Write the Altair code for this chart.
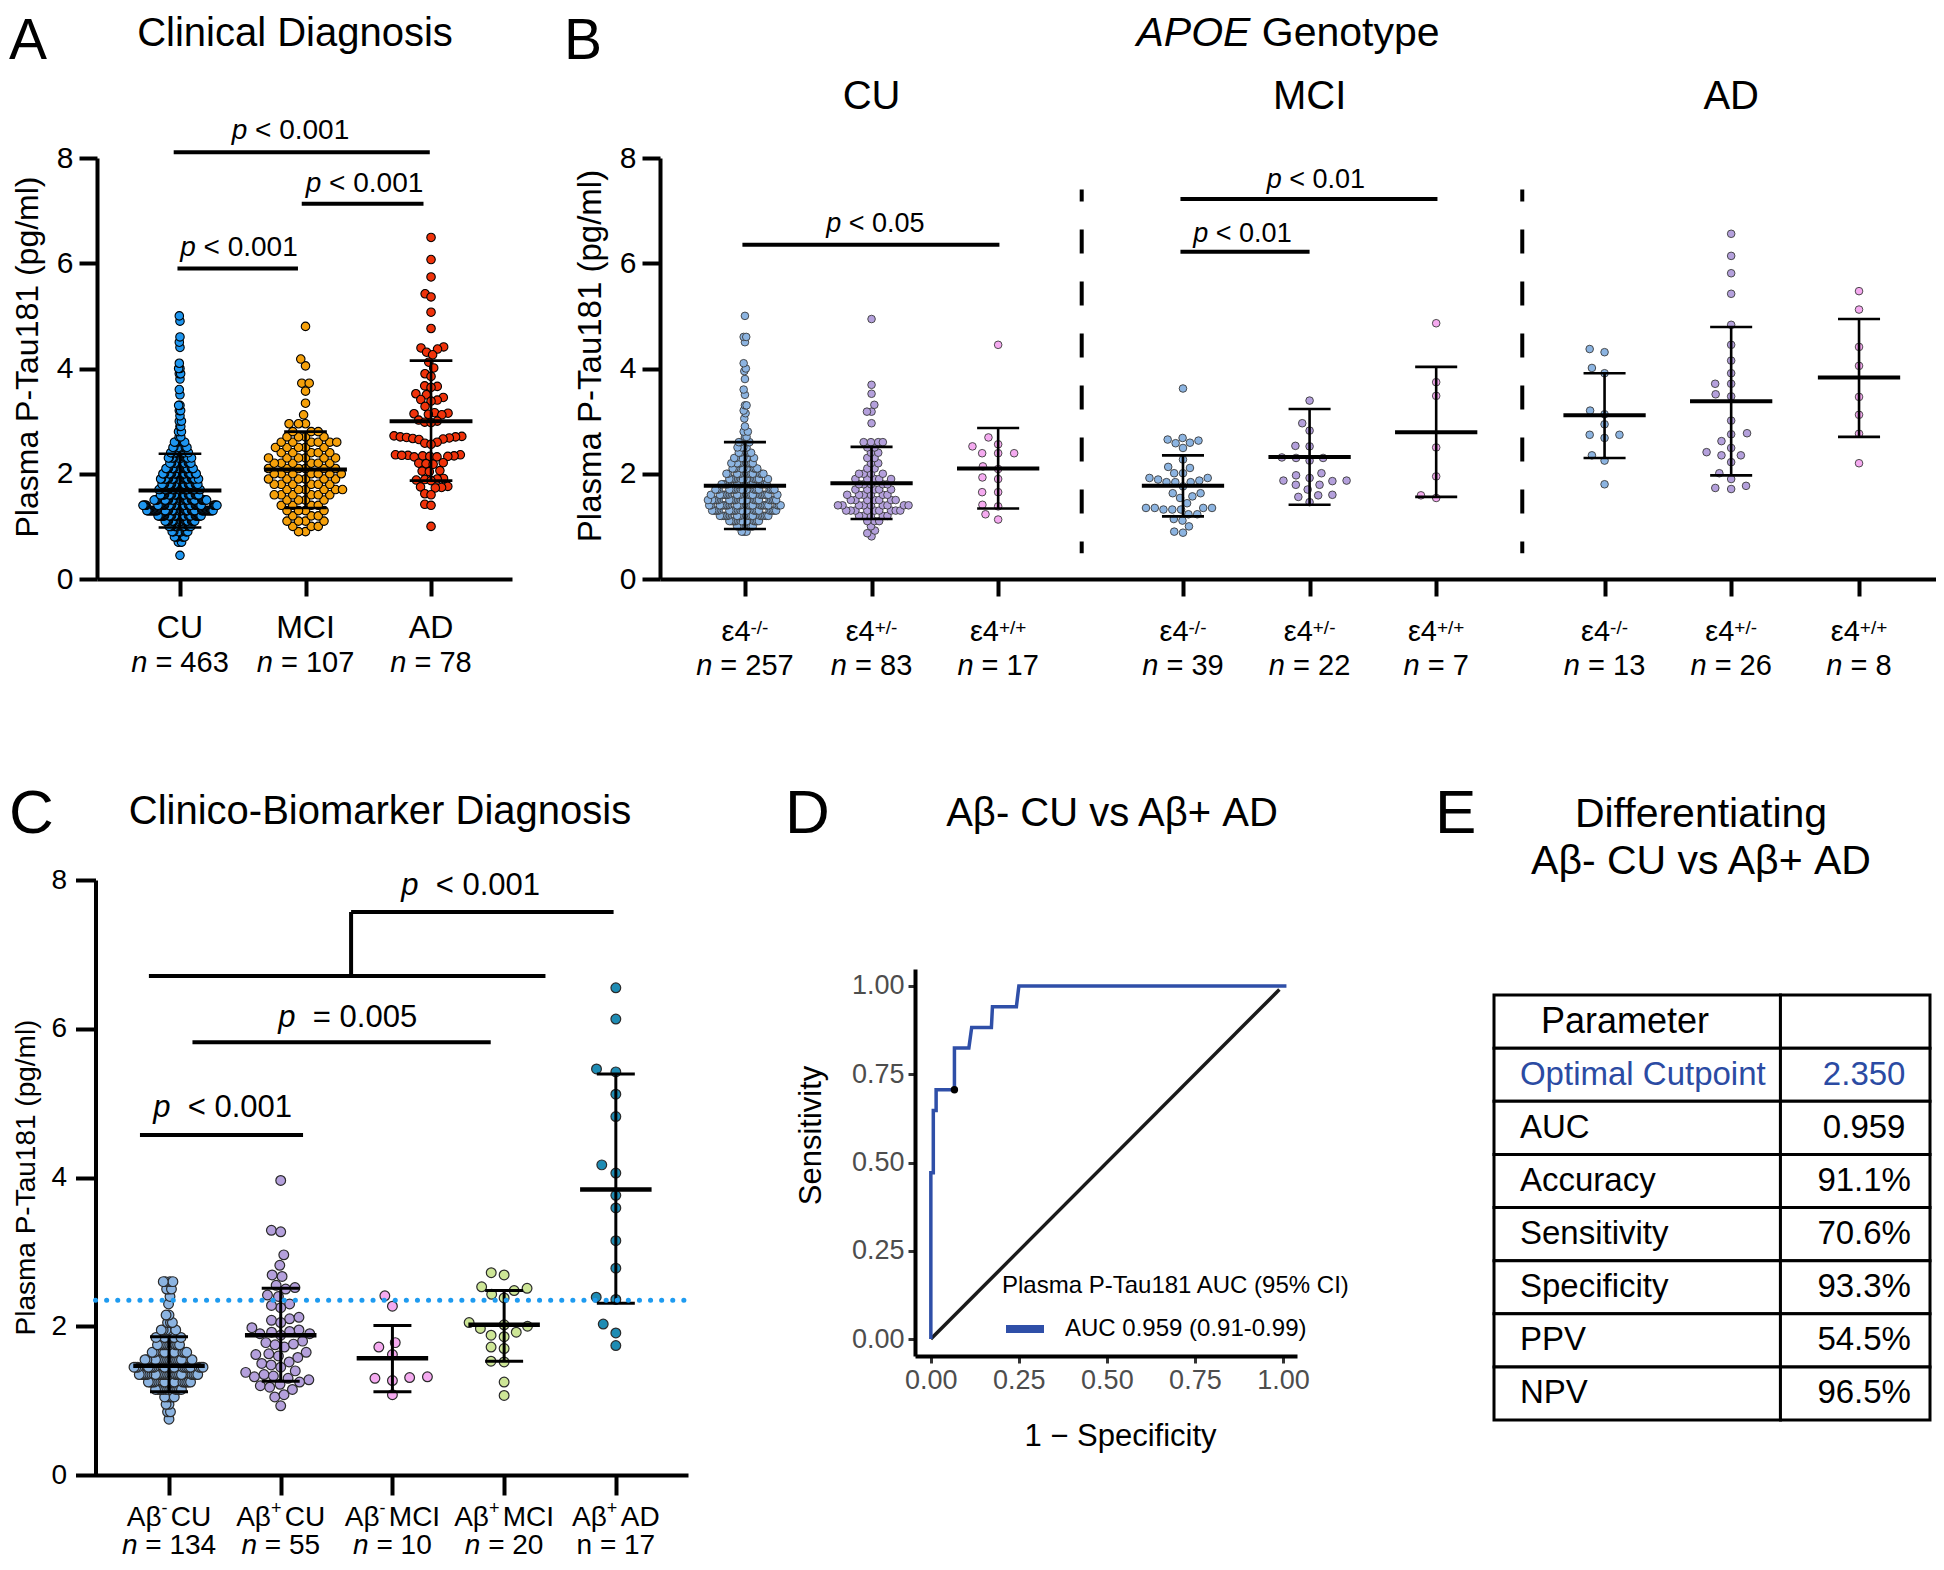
import numpy as np
import pandas as pd
import altair as alt

FONT = "Liberation Sans"
CW, CH = 1928, 1554

# ======================= values =======================
# ---- A: Clinical Diagnosis ----
A_groups = ["CU", "MCI", "AD"]
A_n = ["463", "107", "78"]
A_mean = [1.68, 2.08, 3.00]
A_sd_hi = [2.38, 2.80, 4.15]
A_sd_lo = [0.98, 1.35, 1.87]
A_CU_row_value = [0.45, 0.7, 0.8, 0.9, 1.0, 1.1, 1.2, 1.3, 1.4, 1.5, 1.6, 1.7, 1.8, 1.9, 2.0, 2.1, 2.2, 2.3,
                  2.4, 2.5, 2.6, 2.7, 2.8, 2.9, 3.0, 3.1, 3.2, 3.3, 3.5, 3.6, 3.8, 3.9, 4.0, 4.1, 4.4, 4.5,
                  4.6, 4.9, 5.0]
A_CU_row_count = [1, 5, 9, 12, 17, 22, 34, 51, 44, 34, 28, 26, 25, 25, 22, 19, 16, 15,
                  12, 10, 9, 3, 2, 2, 2, 1, 2, 2, 1, 1, 1, 2, 2, 1, 1, 1,
                  1, 1, 1]
A_MCI_row_value = [0.9, 1.0, 1.1, 1.2, 1.3, 1.4, 1.5, 1.6, 1.7, 1.8, 1.9, 2.0, 2.1, 2.2, 2.3, 2.4, 2.5,
                   2.6, 2.7, 2.8, 2.95, 3.12, 3.34, 3.57, 3.72, 4.05, 4.18, 4.80]
A_MCI_row_count = [2, 3, 4, 3, 4, 4, 4, 6, 6, 6, 6, 7, 6, 6, 6, 5, 5,
                   6, 4, 3, 3, 1, 1, 1, 2, 1, 1, 1]
A_AD_values = [6.49, 6.07, 5.74, 5.42, 5.36, 5.07, 4.76, 4.41, 4.39, 4.37, 4.31, 4.26, 4.12, 4.01, 3.90,
               3.85, 3.67, 3.66, 3.64, 3.52, 3.50, 3.45, 3.41, 3.40, 3.38, 3.28, 3.16, 3.15, 3.14, 3.13,
               3.12, 3.02, 3.00, 2.98, 2.97, 2.72, 2.71, 2.70, 2.70, 2.69, 2.68, 2.67, 2.66, 2.65, 2.60,
               2.58, 2.56, 2.36, 2.36, 2.35, 2.35, 2.34, 2.34, 2.33, 2.33, 2.32, 2.32, 2.21, 2.20, 2.19,
               2.18, 2.06, 2.05, 2.04, 1.91, 1.90, 1.89, 1.88, 1.87, 1.76, 1.75, 1.74, 1.73, 1.62, 1.60,
               1.42, 1.40, 1.00]
A_sig_x1 = [-0.05, 0.97, -0.02]
A_sig_x2 = [1.99, 1.94, 0.94]
A_sig_y = [8.11, 7.13, 5.90]
A_sig_label = ["< 0.001", "< 0.001", "< 0.001"]
A_sig_text_x = [0.88, 1.47, 0.47]
A_sig_text_y = [8.36, 7.36, 6.13]

# ---- B: APOE genotype ----
B_diag = ["CU", "MCI", "AD"]
B_geno = ["-/-", "+/-", "+/+", "-/-", "+/-", "+/+", "-/-", "+/-", "+/+"]
B_n = ["257", "83", "17", "39", "22", "7", "13", "26", "8"]
B_mean = [1.77, 1.82, 2.10, 1.77, 2.32, 2.79, 3.11, 3.38, 3.83]
B_sd_hi = [2.60, 2.51, 2.87, 2.35, 3.23, 4.03, 3.91, 4.79, 4.94]
B_sd_lo = [0.95, 1.14, 1.34, 1.19, 1.41, 1.56, 2.30, 1.97, 2.70]
B_CU_mm_row_value = [0.9, 1.0, 1.1, 1.2, 1.3, 1.4, 1.5, 1.6, 1.7, 1.8, 1.9, 2.0, 2.1, 2.2, 2.3, 2.4, 2.5,
                     2.6, 2.7, 2.8, 2.9, 3.05, 3.15, 3.2, 3.3, 3.5, 3.6, 3.8, 3.95, 4.0, 4.1, 4.5, 4.6, 5.0]
B_CU_mm_row_count = [4, 7, 13, 19, 23, 24, 24, 21, 20, 17, 14, 12, 10, 8, 7, 5, 5,
                     4, 2, 2, 1, 1, 1, 1, 2, 1, 1, 1, 1, 1, 1, 1, 2, 1]
B_CU_pm_row_value = [0.81, 0.87, 0.92, 1.0, 1.1, 1.2, 1.3, 1.4, 1.5, 1.6, 1.7, 1.8, 1.9, 2.0, 2.1, 2.2,
                     2.3, 2.4, 2.5, 2.6, 2.96, 3.18, 3.31, 3.52, 3.69, 4.94]
B_CU_pm_row_count = [1, 1, 1, 1, 3, 5, 9, 9, 7, 6, 5, 5, 5, 4, 2, 2,
                     2, 2, 2, 4, 1, 2, 1, 1, 1, 1]
B_CU_pp_values = [4.45, 2.69, 2.56, 2.52, 2.39, 2.39, 2.39, 2.14, 2.09, 1.90, 1.93, 1.65, 1.65, 1.38,
                  1.41, 1.13, 1.23]
B_MCI_mm_values = [3.62, 2.68, 2.65, 2.63, 2.59, 2.58, 2.49, 2.27, 2.13, 2.11, 2.01, 2.01, 1.92, 1.92,
                   1.89, 1.87, 1.84, 1.84, 1.84, 1.76, 1.63, 1.63, 1.57, 1.54, 1.44, 1.35, 1.35, 1.35,
                   1.35, 1.32, 1.32, 1.32, 1.23, 1.23, 1.14, 1.11, 1.00, 0.90, 0.88]
B_MCI_pm_values = [3.39, 2.96, 2.82, 2.52, 2.53, 2.30, 2.25, 2.30, 2.31, 2.01, 1.87, 1.92, 1.97, 1.86,
                   1.87, 1.79, 1.70, 1.79, 1.60, 1.56, 1.59, 1.46]
B_MCI_pp_values = [4.86, 3.74, 3.48, 2.50, 1.95, 1.54, 1.59]
B_AD_mm_values = [4.31, 4.37, 3.91, 4.01, 3.13, 3.20, 2.94, 2.74, 2.68, 2.74, 2.25, 2.35, 1.80]
B_AD_pm_values = [6.56, 6.14, 5.81, 5.42, 4.83, 4.45, 4.15, 3.91, 3.71, 3.71, 3.47, 3.51, 3.01, 2.77,
                  2.75, 2.62, 2.49, 2.35, 2.41, 2.35, 2.22, 2.01, 1.90, 1.71, 1.73, 1.77]
B_AD_pp_values = [5.47, 5.12, 4.41, 4.05, 3.46, 3.12, 2.76, 2.20]
B_sig_x1 = [-0.02, 3.44, 3.44]
B_sig_x2 = [2.01, 5.47, 4.46]
B_sig_y = [6.35, 7.22, 6.22]
B_sig_label = ["< 0.05", "< 0.01", "< 0.01"]
B_sig_text_x = [1.03, 4.51, 3.93]
B_sig_text_y = [6.60, 7.43, 6.40]
B_sep_top, B_sep_bottom = 7.4, 0.49

# ---- C: Clinico-biomarker diagnosis ----
C_diag = ["CU", "CU", "MCI", "MCI", "AD"]
C_abeta = ["-", "+", "-", "+", "+"]
C_n = ["134", "55", "10", "20", "17"]
C_n_italic = [True, True, True, True, False]
C_mean = [1.47, 1.88, 1.57, 2.02, 3.84]
C_sd_hi = [1.86, 2.51, 2.01, 2.48, 5.39]
C_sd_lo = [1.12, 1.26, 1.12, 1.53, 2.31]
C_negCU_row_value = [0.75, 0.85, 0.95, 1.05, 1.15, 1.25, 1.35, 1.45, 1.55, 1.65, 1.75, 1.85, 1.95, 2.05,
                     2.15, 2.3, 2.4, 2.5, 2.6]
C_negCU_row_count = [1, 2, 2, 5, 11, 14, 20, 20, 14, 10, 9, 7, 5, 3, 2, 1, 1, 3, 4]
C_posCU_values = [3.96, 3.29, 3.27, 2.96, 2.82, 2.69, 2.67, 2.55, 2.50, 2.52, 2.42, 2.40, 2.30, 2.25,
                  2.28, 2.10, 2.08, 2.12, 2.05, 1.98, 1.95, 1.92, 1.90, 1.90, 1.93, 1.88, 1.80, 1.78,
                  1.75, 1.72, 1.76, 1.65, 1.62, 1.60, 1.58, 1.63, 1.50, 1.48, 1.52, 1.45, 1.40, 1.38,
                  1.35, 1.33, 1.30, 1.32, 1.28, 1.25, 1.20, 1.18, 1.22, 1.15, 1.05, 1.08, 0.93]
C_negMCI_values = [2.41, 2.27, 1.78, 1.72, 1.62, 1.32, 1.30, 1.27, 1.31, 1.08]
C_posMCI_values = [2.72, 2.69, 2.53, 2.51, 2.48, 2.43, 2.38, 2.05, 2.02, 2.00, 1.97, 1.92, 1.88, 1.86,
                   1.72, 1.70, 1.53, 1.52, 1.25, 1.07]
C_posAD_values = [6.55, 6.13, 5.42, 5.46, 5.12, 4.82, 4.06, 4.17, 3.76, 3.59, 3.15, 2.78, 2.39, 2.36,
                  2.03, 1.91, 1.74]
C_cutpoint = 2.35
C_sig_x1 = [-0.26, 0.21, -0.18, 1.63]
C_sig_x2 = [1.20, 2.88, 3.37, 3.98]
C_sig_y = [4.57, 5.82, 6.71, 7.57]
C_bracket_x = 1.63
C_sig_label = ["< 0.001", "= 0.005", "< 0.001"]
C_sig_text_x = [0.48, 1.60, 2.70]
C_sig_text_y = [4.82, 6.03, 7.80]

# ---- D: ROC ----
D_fpr = [0.0, 0.0, 0.007, 0.007, 0.015, 0.015, 0.067, 0.067, 0.108, 0.116, 0.172, 0.175, 0.243, 0.250, 1.01]
D_tpr = [0.0, 0.471, 0.471, 0.647, 0.647, 0.706, 0.706, 0.824, 0.824, 0.882, 0.882, 0.941, 0.941, 1.0, 1.0]
D_diag_fpr = [0.0, 0.99]
D_diag_tpr = [0.0, 0.99]
D_opt_fpr, D_opt_tpr = 0.067, 0.706
D_model = "AUC 0.959 (0.91-0.99)"
D_legend_title = "Plasma P-Tau181 AUC (95% CI)"

# ---- E: table ----
E_param = ["Parameter", "Optimal Cutpoint", "AUC", "Accuracy", "Sensitivity", "Specificity", "PPV", "NPV"]
E_value = ["", "2.350", "0.959", "91.1%", "70.6%", "93.3%", "54.5%", "96.5%"]

# ======================= layout & style =======================
A_pos = [0, 1, 2]
B_pos = [0, 1, 2, 3.46, 4.46, 5.46, 6.79, 7.79, 8.80]
B_sep_x = [2.66, 6.14]
B_head_pos = [1, 4.46, 7.79]
C_pos = [0, 1, 2, 3, 4]
A_colors = ["#1E96F0", "#F5A00A", "#F0320A"]
B_colors = ["#8CB4E1", "#B4A0DC", "#F5AAF0"] * 3
C_colors = ["#8CB4E1", "#B4A0DC", "#F5AAF0", "#CDE696", "#1E8CB4"]
ROC_BLUE = "#2F4FA8"
TABLE_BLUE = "#2B4BA3"

A_xdom, A_xrng, A_xpu = [-0.661, 2.645], [89, 504], 125.5
B_xdom, B_xrng, B_xpu = [-0.671, 9.408], [652, 1928], 126.6
C_xdom, C_xrng, C_xpu = [-0.658, 4.646], [87.5, 680], 111.7
AB_yrng = [571, 150]
C_yrng = [1467, 872]
AB_ypu = (571 - 150) / 8.0
C_ypu = (1467 - 872) / 8.0

AW = {' ': 278, '=': 584, '<': 584, '+': 584, '-': 333, '/': 278, '.': 278, '%': 889, '(': 333, ')': 333,
      'A': 667, 'C': 722, 'D': 722, 'E': 667, 'G': 778, 'I': 278, 'M': 833, 'O': 778, 'P': 667, 'U': 722,
      'e': 556, 'n': 556, 'o': 556, 'p': 556, 't': 278, 'y': 500, 'β': 575, 'ε': 446}


def tw(s, size):
    return sum(AW.get(ch, 556) for ch in s) * size / 1000.0


def segments(center, xpu, base, segs):
    widths = [tw(t, s) for t, s, it, r in segs]
    acc = -sum(widths) / 2.0
    rows = []
    for (t, s, it, r), w in zip(segs, widths):
        if t.strip():
            rows.append({"x": float(center + acc / xpu), "text": t, "size": float(s),
                         "italic": bool(it), "y": float(base - r)})
        acc += w
    return rows


def swarm_offsets(values, ax, ay, ypu, max_half):
    ys = np.asarray(values, float) * ypu
    order = np.argsort(ys, kind="stable")
    xs = np.zeros(len(ys))
    done = np.zeros(len(ys), bool)
    for i in order:
        m = done & (np.abs(ys - ys[i]) < ay)
        if m.any():
            dy = np.abs(ys[m] - ys[i])
            w = ax * np.sqrt(1 - (dy / ay) ** 2)
            a = xs[m] - w
            b = xs[m] + w
            c = np.concatenate([[0.0], a, b])
            c = c[np.argsort(np.abs(c), kind="stable")]
            bad = ((c[:, None] > a[None, :] + 1e-6) & (c[:, None] < b[None, :] - 1e-6)).any(axis=1)
            xs[i] = c[np.argmax(~bad)]
        done[i] = True
    mx = np.abs(xs).max() if len(xs) else 0
    if mx > max_half:
        xs = xs * max_half / mx
    return xs


def swarm_df(pos, groups, colors, ax, ay, ypu, xpu, max_half):
    rows = []
    for p, vals, col in zip(pos, groups, colors):
        offs = swarm_offsets(vals, ax, ay, ypu, max_half)
        for v, o in zip(vals, offs):
            rows.append({"x": float(p + o / xpu), "v": float(v), "col": col})
    return pd.DataFrame(rows)


def axis_common():
    return dict(grid=False, domainColor="black", tickColor="black", labelColor="black", labelFont=FONT,
                titleFont=FONT, titleFontWeight="normal", titleColor="black", labelFlush=False)


def make_XY(xdom, xrng, xaxis, ydom, yrng, yaxis):
    xs = alt.Scale(domain=xdom, range=xrng, nice=False, zero=False)
    ys = alt.Scale(domain=ydom, range=yrng, nice=False, zero=False)

    def X(f):
        return alt.X(f"{f}:Q", scale=xs, axis=xaxis)

    def Y(f):
        return alt.Y(f"{f}:Q", scale=ys, axis=yaxis)
    return X, Y


def text_layers(rows, X, Y=None):
    df = pd.DataFrame(rows)
    out = []
    keys = ["size", "italic"] + ([] if Y is not None else ["y"])
    for key, sub in df.groupby(keys, sort=False):
        size = float(key[0])
        italic = bool(key[1])
        ch = alt.Chart(sub.reset_index(drop=True)).mark_text(
            align="left", baseline="alphabetic", font=FONT, fontSize=size,
            fontStyle="italic" if italic else "normal", color="black")
        if Y is not None:
            out.append(ch.encode(x=X("x"), y=Y("y"), text="text:N"))
        else:
            out.append(ch.encode(x=X("x"), y=alt.value(float(key[2])), text="text:N"))
    return out


def summary_layers(pos, mean, lo, hi, X, Y, mh, chf, mw, sw):
    df = pd.DataFrame({"pos": pos, "mean": mean, "lo": lo, "hi": hi})
    base = alt.Chart(df).transform_calculate(
        ml=f"datum.pos - {mh}", mr=f"datum.pos + {mh}", cl=f"datum.pos - {chf}", cr=f"datum.pos + {chf}")
    return [
        base.mark_rule(strokeWidth=sw, color="black").encode(x=X("pos"), y=Y("lo"), y2="hi"),
        base.mark_rule(strokeWidth=sw, color="black").encode(x=X("cl"), x2="cr", y=Y("hi")),
        base.mark_rule(strokeWidth=sw, color="black").encode(x=X("cl"), x2="cr", y=Y("lo")),
        base.mark_rule(strokeWidth=mw, color="black").encode(x=X("ml"), x2="mr", y=Y("mean")),
    ]


def px_text(txt, x, y, size, italic=False, align="left", color="black"):
    return alt.Chart(pd.DataFrame({"t": [txt]})).mark_text(
        align=align, baseline="alphabetic", font=FONT, fontSize=size,
        fontStyle="italic" if italic else "normal", color=color).encode(
        text="t:N", x=alt.value(x), y=alt.value(y))


def p_rows(cx, cy, label, size, xpu, gap):
    return segments(cx, xpu, cy, [("p", size, True, 0), (gap, size, False, 0), (label, size, False, 0)])


# ======================= Panel A =======================
A_xaxis = alt.Axis(orient="bottom", offset=571 - CH, values=A_pos, labels=False, tickSize=17, tickWidth=4,
                   domainWidth=4, title=None, **axis_common())
A_yaxis = alt.Axis(orient="left", offset=-89, values=[0, 2, 4, 6, 8], tickSize=18, tickWidth=4, domainWidth=4,
                   labelFontSize=30, labelPadding=6, title="Plasma P-Tau181 (pg/ml)", titleFontSize=32,
                   titleAngle=270, titleX=-53, titleY=348.5, titleAlign="center", titleBaseline="bottom",
                   **axis_common())
AX, AY = make_XY(A_xdom, A_xrng, A_xaxis, [0, 8], AB_yrng, A_yaxis)

A_vals = [list(np.repeat(A_CU_row_value, A_CU_row_count)),
          list(np.repeat(A_MCI_row_value, A_MCI_row_count)),
          A_AD_values]
A_pts = swarm_df(A_pos, A_vals, A_colors, 9.3, 9.3, AB_ypu, A_xpu, 37)
A_layers = [alt.Chart(A_pts).mark_circle(size=72, stroke="black", strokeWidth=1.1, opacity=1).encode(
    x=AX("x"), y=AY("v"), fill=alt.Fill("col:N", scale=None))]
A_layers += summary_layers(A_pos, A_mean, A_sd_lo, A_sd_hi, AX, AY, 0.33, 0.17, 4, 2.6)
A_layers.append(alt.Chart(pd.DataFrame({"x1": A_sig_x1, "x2": A_sig_x2, "y": A_sig_y})).mark_rule(
    strokeWidth=4, color="black").encode(x=AX("x1"), x2="x2", y=AY("y")))
rows = []
for cx, cy, lab in zip(A_sig_text_x, A_sig_text_y, A_sig_label):
    rows += p_rows(cx, cy, lab, 28, A_xpu, " ")
A_layers += text_layers(rows, AX, AY)
rows = []
for p, g, n in zip(A_pos, A_groups, A_n):
    rows += segments(p, A_xpu, 630, [(g, 32, False, 0)])
    rows += segments(p, A_xpu, 664, [("n", 29, True, 0), (" ", 29, False, 0), ("= " + n, 29, False, 0)])
A_layers += text_layers(rows, AX)
panelA = alt.layer(*A_layers)

# ======================= Panel B =======================
B_xaxis = alt.Axis(orient="bottom", offset=571 - CH, values=B_pos, labels=False, tickSize=17, tickWidth=4,
                   domainWidth=4, title=None, **axis_common())
B_yaxis = alt.Axis(orient="left", offset=-652, values=[0, 2, 4, 6, 8], tickSize=18, tickWidth=4, domainWidth=4,
                   labelFontSize=30, labelPadding=6, title="Plasma P-Tau181 (pg/ml)", titleFontSize=33,
                   titleAngle=270, titleX=-53, titleY=347.5, titleAlign="center", titleBaseline="bottom",
                   **axis_common())
BX, BY = make_XY(B_xdom, B_xrng, B_xaxis, [0, 8], AB_yrng, B_yaxis)

B_vals = [list(np.repeat(B_CU_mm_row_value, B_CU_mm_row_count)),
          list(np.repeat(B_CU_pm_row_value, B_CU_pm_row_count)),
          B_CU_pp_values, B_MCI_mm_values, B_MCI_pm_values, B_MCI_pp_values,
          B_AD_mm_values, B_AD_pm_values, B_AD_pp_values]
B_pts = swarm_df(B_pos, B_vals, B_colors, 16.0, 8.6, AB_ypu, B_xpu, 37)
B_layers = [alt.Chart(B_pts).mark_circle(size=58, stroke="#3a3a3a", strokeWidth=0.9, opacity=1).encode(
    x=BX("x"), y=BY("v"), fill=alt.Fill("col:N", scale=None))]
B_layers += summary_layers(B_pos, B_mean, B_sd_lo, B_sd_hi, BX, BY, 0.325, 0.166, 4, 2.6)
B_layers.append(alt.Chart(pd.DataFrame({"x": B_sep_x, "y1": [B_sep_top] * 2, "y2": [B_sep_bottom] * 2}))
                .mark_rule(strokeWidth=4, color="black", strokeDash=[24, 28], strokeDashOffset=12)
                .encode(x=BX("x"), y=BY("y1"), y2="y2"))
B_layers.append(alt.Chart(pd.DataFrame({"x1": B_sig_x1, "x2": B_sig_x2, "y": B_sig_y})).mark_rule(
    strokeWidth=4, color="black").encode(x=BX("x1"), x2="x2", y=BY("y")))
rows = []
for cx, cy, lab in zip(B_sig_text_x, B_sig_text_y, B_sig_label):
    rows += p_rows(cx, cy, lab, 27, B_xpu, " ")
B_layers += text_layers(rows, BX, BY)
rows = []
for p, g, n in zip(B_pos, B_geno, B_n):
    rows += segments(p, B_xpu, 633, [("ε4", 29, False, 0), (g, 19, False, 7)])
    rows += segments(p, B_xpu, 667, [("n", 29, True, 0), (" ", 29, False, 0), ("= " + n, 29, False, 0)])
for p, d in zip(B_head_pos, B_diag):
    rows += segments(p, B_xpu, 101, [(d, 40, False, 0)])
B_layers += text_layers(rows, BX)
panelB = alt.layer(*B_layers)

# ======================= Panel C =======================
C_xaxis = alt.Axis(orient="bottom", offset=1467 - CH, values=C_pos, labels=False, tickSize=20, tickWidth=4,
                   domainWidth=4, title=None, **axis_common())
C_yaxis = alt.Axis(orient="left", offset=-87.5, values=[0, 2, 4, 6, 8], tickSize=20, tickWidth=4, domainWidth=4,
                   labelFontSize=28, labelPadding=9, title="Plasma P-Tau181 (pg/ml)", titleFontSize=28,
                   titleAngle=270, titleX=-55, titleY=1169, titleAlign="center", titleBaseline="bottom",
                   **axis_common())
CX, CY = make_XY(C_xdom, C_xrng, C_xaxis, [0, 8], C_yrng, C_yaxis)

C_vals = [list(np.repeat(C_negCU_row_value, C_negCU_row_count)), C_posCU_values, C_negMCI_values,
          C_posMCI_values, C_posAD_values]
C_pts = swarm_df(C_pos, C_vals, C_colors, 20.0, 11.5, C_ypu, C_xpu, 35)
C_layers = [alt.Chart(C_pts).mark_circle(size=95, stroke="#2a2a2a", strokeWidth=1.2, opacity=1).encode(
    x=CX("x"), y=CY("v"), fill=alt.Fill("col:N", scale=None))]
C_layers += summary_layers(C_pos, C_mean, C_sd_lo, C_sd_hi, CX, CY, 0.32, 0.17, 4.5, 3)
C_layers.append(alt.Chart(pd.DataFrame({"x1": [C_xdom[0]], "x2": [C_xdom[1]], "y": [C_cutpoint]}))
                .mark_rule(strokeWidth=5, color="#1E9BF0", strokeDash=[0.1, 11], strokeCap="round")
                .encode(x=CX("x1"), x2="x2", y=CY("y")))
C_layers.append(alt.Chart(pd.DataFrame({"x1": C_sig_x1, "x2": C_sig_x2, "y": C_sig_y})).mark_rule(
    strokeWidth=4, color="black").encode(x=CX("x1"), x2="x2", y=CY("y")))
C_layers.append(alt.Chart(pd.DataFrame({"x": [C_bracket_x], "y1": [C_sig_y[2]], "y2": [C_sig_y[3]]}))
                .mark_rule(strokeWidth=4, color="black").encode(x=CX("x"), y=CY("y1"), y2="y2"))
rows = []
for cx, cy, lab in zip(C_sig_text_x, C_sig_text_y, C_sig_label):
    rows += p_rows(cx, cy, lab, 31, C_xpu, "  ")
C_layers += text_layers(rows, CX, CY)
rows = []
for p, d, s, n, it in zip(C_pos, C_diag, C_abeta, C_n, C_n_italic):
    rows += segments(p, C_xpu, 1518, [("Aβ", 28, False, 0), (s, 18, False, 12), (" ", 12, False, 0),
                                      (d, 28, False, 0)])
    rows += segments(p, C_xpu, 1546, [("n", 28, it, 0), (" ", 28, False, 0), ("= " + n, 28, False, 0)])
C_layers += text_layers(rows, CX)
panelC = alt.layer(*C_layers)

# ======================= Panel D =======================
D_xaxis = alt.Axis(orient="bottom", offset=1348 - CH, values=[0, 0.25, 0.5, 0.75, 1], format=".2f",
                   tickSize=7, tickWidth=3, tickColor="#333333", domainWidth=4, domainColor="black",
                   labelFontSize=27, labelColor="#4D4D4D", labelPadding=4, labelFont=FONT, labelFlush=False,
                   title="1 − Specificity", titleFont=FONT, titleFontSize=31, titleFontWeight="normal",
                   titleColor="black", titleX=1112, titleY=89, titleAlign="center", titleBaseline="alphabetic",
                   grid=False)
D_yaxis = alt.Axis(orient="left", offset=-907, values=[0, 0.25, 0.5, 0.75, 1], format=".2f",
                   tickSize=7, tickWidth=3, tickColor="#333333", domainWidth=4, domainColor="black",
                   labelFontSize=27, labelColor="#4D4D4D", labelPadding=4, labelFont=FONT, labelFlush=False,
                   title="Sensitivity", titleFont=FONT, titleFontSize=31, titleFontWeight="normal",
                   titleColor="black", titleAngle=270, titleX=-88, titleY=1127, titleAlign="center",
                   titleBaseline="bottom", grid=False)
DX, DY = make_XY([-0.045, 1.04], [907, 1289], D_xaxis, [-0.048, 1.048], [1348, 961], D_yaxis)
D_layers = [
    alt.Chart(pd.DataFrame({"f": D_diag_fpr, "t": D_diag_tpr})).mark_line(color="#1A1A1A", strokeWidth=3.5)
    .encode(x=DX("f"), y=DY("t")),
    alt.Chart(pd.DataFrame({"i": list(range(len(D_fpr))), "f": D_fpr, "t": D_tpr, "m": [D_model] * len(D_fpr)}))
    .mark_line(strokeWidth=3.5)
    .encode(x=DX("f"), y=DY("t"), order=alt.Order("i:Q"),
            color=alt.Color("m:N", scale=alt.Scale(domain=[D_model], range=[ROC_BLUE]),
                            legend=alt.Legend(orient="none", legendX=994, legendY=1266, title=D_legend_title,
                                              titleFont=FONT, titleFontSize=24, titleFontWeight="normal",
                                              titleColor="black", titlePadding=8, titleLimit=0,
                                              labelFont=FONT, labelFontSize=24, labelColor="black",
                                              labelLimit=0, symbolType="stroke",
                                              symbolStrokeWidth=8, symbolSize=1444, labelOffset=17,
                                              padding=0))),
    alt.Chart(pd.DataFrame({"f": [D_opt_fpr], "t": [D_opt_tpr]})).mark_circle(size=55, color="black", opacity=1)
    .encode(x=DX("f"), y=DY("t")),
]
panelD = alt.layer(*D_layers)

# ======================= Panel E =======================
E_edges = [0.0, 0.657, 1.0]
E_rows = list(range(len(E_param)))
E_scale_x = alt.Scale(domain=[0, 1], range=[1486, 1922], nice=False, zero=False)
E_scale_y = alt.Scale(domain=E_rows, range=[987, 1412], paddingInner=0, paddingOuter=0)
cells = pd.DataFrame({"row": [r for r in E_rows for _ in range(2)],
                      "x0": [E_edges[0], E_edges[1]] * len(E_rows),
                      "x1": [E_edges[1], E_edges[2]] * len(E_rows)})
E_text = pd.DataFrame({"row": E_rows, "param": E_param, "value": E_value,
                       "tc": ["black", TABLE_BLUE] + ["black"] * (len(E_rows) - 2),
                       "lx": [0.1076] + [0.0595] * (len(E_rows) - 1),
                       "vx": [0.849] * len(E_rows)})
E_layers = [
    alt.Chart(cells).mark_rect(fill="white", stroke="black", strokeWidth=3).encode(
        x=alt.X("x0:Q", scale=E_scale_x, axis=None), x2="x1",
        y=alt.Y("row:O", scale=E_scale_y, axis=None)),
    alt.Chart(E_text.iloc[:1]).mark_text(align="left", baseline="middle", font=FONT, fontSize=36).encode(
        x=alt.X("lx:Q", scale=E_scale_x, axis=None), y=alt.Y("row:O", scale=E_scale_y, axis=None),
        text="param:N", color=alt.Color("tc:N", scale=None)),
    alt.Chart(E_text.iloc[1:]).mark_text(align="left", baseline="middle", font=FONT, fontSize=33).encode(
        x=alt.X("lx:Q", scale=E_scale_x, axis=None), y=alt.Y("row:O", scale=E_scale_y, axis=None),
        text="param:N", color=alt.Color("tc:N", scale=None)),
    alt.Chart(E_text).mark_text(align="center", baseline="middle", font=FONT, fontSize=33).encode(
        x=alt.X("vx:Q", scale=E_scale_x, axis=None), y=alt.Y("row:O", scale=E_scale_y, axis=None),
        text="value:N", color=alt.Color("tc:N", scale=None)),
]
panelE = alt.layer(*E_layers)

# ======================= Titles & panel letters =======================
ann = [
    px_text("A", 1, 51, 57), px_text("B", 556, 51, 57),
    px_text("C", 1, 825, 62), px_text("D", 777, 825, 62), px_text("E", 1427, 825, 62),
    px_text("Clinical Diagnosis", 287, 38, 40, align="center"),
    px_text("Clinico-Biomarker Diagnosis", 372, 816, 40, align="center"),
    px_text("Aβ- CU vs Aβ+ AD", 1104, 818, 40, align="center"),
    px_text("Differentiating", 1693, 819, 41, align="center"),
    px_text("Aβ- CU vs Aβ+ AD", 1693, 866, 41, align="center"),
]
for r in segments(1280, 1, 38, [("APOE", 41, True, 0), (" ", 41, False, 0), ("Genotype", 41, False, 0)]):
    ann.append(px_text(r["text"], r["x"], r["y"], 41, italic=r["italic"]))

chart = alt.layer(panelA, panelB, panelC, panelD, panelE, *ann).resolve_scale(
    x="independent", y="independent", color="independent", fill="independent"
).properties(
    width=CW, height=CH, autosize=alt.AutoSizeParams(type="none"), padding=0
).configure_view(strokeWidth=0)

chart.save("out.html", embed_options={"renderer": "svg", "actions": False})
